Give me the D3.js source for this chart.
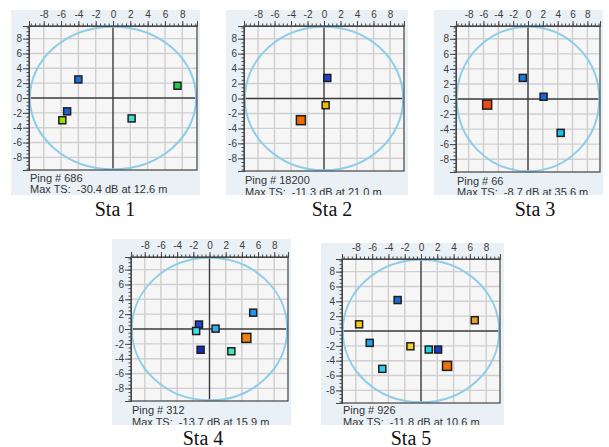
<!DOCTYPE html>
<html>
<head>
<meta charset="utf-8">
<script src="https://cdn.jsdelivr.net/npm/d3@7"></script>
<style>
  body { margin: 0; background: #fff; }
  svg { display: block; }
</style>
</head>
<body>
<div id="chart"></div>
<script>
// station names and the info lines under each plot
var stations = ["Sta 1", "Sta 2", "Sta 3", "Sta 4", "Sta 5"];
var pings = [686, 18200, 66, 312, 926];
var maxTS = ["-30.4 dB at 12.6 m", "-11.3 dB at 21.0 m", "-8.7 dB at 35.6 m", "-13.7 dB at 15.9 m", "-11.8 dB at 10.6 m"];

// target positions, [x, y] in m
var sta1X = [-4.0, -5.3, -5.85, 2.15, 7.45];
var sta1Y = [2.5, -1.8, -3.0, -2.75, 1.65];
var sta1C = ["#1e6fd9", "#1c5fd8", "#9be000", "#40e0c8", "#22c850"];

var sta2X = [0.4, 0.2, -2.8];
var sta2Y = [2.75, -0.9, -2.9];
var sta2C = ["#1f3fd0", "#f0c000", "#f06a00"];

var sta3X = [-0.7, 2.1, -5.5, 4.4];
var sta3Y = [2.8, 0.3, -0.75, -4.5];
var sta3C = ["#1a7ae0", "#1566e0", "#f04a10", "#20c0f0"];

var sta4X = [-1.3, -1.65, 0.75, -1.1, 2.7, 4.55, 5.4];
var sta4Y = [0.6, -0.27, 0.05, -2.8, -3.0, -1.2, 2.2];
var sta4C = ["#2040d8", "#40e0e8", "#30b0f0", "#1030c0", "#40e8c0", "#f08010", "#2098f0"];

var sta5X = [-2.87, -7.6, -6.3, -4.75, -1.3, 0.95, 2.1, 3.2, 6.6];
var sta5Y = [4.17, 0.9, -1.6, -5.1, -2.06, -2.5, -2.5, -4.7, 1.45];
var sta5C = ["#1a6ad8", "#f8d010", "#20a0f0", "#30d0f0", "#f0d020", "#20d0f0", "#1a3ac8", "#f07000", "#f0a020"];

var tickValues = [-8, -6, -4, -2, 0, 2, 4, 6, 8];
var ringRadius = 9.6;

var allX = [sta1X, sta2X, sta3X, sta4X, sta5X];
var allY = [sta1Y, sta2Y, sta3Y, sta4Y, sta5Y];
var allC = [sta1C, sta2C, sta3C, sta4C, sta5C];

// layout of each panel on the page; info = baselines of the two text lines
var layout = [
  {bg: [11, 10, 200, 195], plot: [29, 26, 197, 170], title: [115, 216], info: [182, 193]},
  {bg: [226, 10, 408, 195], plot: [244, 26, 404, 171], title: [332, 216], info: [184, 196]},
  {bg: [434, 10, 603, 195], plot: [456, 26, 600, 172], title: [535, 216], info: [184.5, 196]},
  {bg: [112, 239, 291, 425], plot: [131, 257, 288, 401], title: [203, 444.5], info: [413.5, 425.5]},
  {bg: [321, 243, 504, 425], plot: [342, 259, 500, 403], title: [411, 444.5], info: [413.5, 425.5]}
];

var hyphen = function (d) { return String(d); };

var svg = d3.select("#chart").append("svg")
    .attr("width", 609)
    .attr("height", 447);

stations.forEach(function (name, i) {
  var L = layout[i];
  var x = d3.scaleLinear().domain([-9.7, 9.7]).range([L.plot[0], L.plot[2]]);
  var y = d3.scaleLinear().domain([-9.7, 9.7]).range([L.plot[3], L.plot[1]]);

  var g = svg.append("g").attr("class", "panel");

  g.append("clipPath").attr("id", "clip" + i)
    .append("rect")
    .attr("x", L.bg[0]).attr("y", L.bg[1])
    .attr("width", L.bg[2] - L.bg[0]).attr("height", L.bg[3] - L.bg[1]);

  g.append("rect")
    .attr("x", L.bg[0]).attr("y", L.bg[1])
    .attr("width", L.bg[2] - L.bg[0]).attr("height", L.bg[3] - L.bg[1])
    .attr("fill", "#eaf1f6");

  g.append("rect")
    .attr("x", L.plot[0]).attr("y", L.plot[1])
    .attr("width", L.plot[2] - L.plot[0]).attr("height", L.plot[3] - L.plot[1])
    .attr("fill", "#f6f6f6");

  // grid
  g.selectAll(".vgrid").data(tickValues.filter(function (t) { return t !== 0; }))
    .enter().append("line")
    .attr("x1", function (d) { return x(d); }).attr("x2", function (d) { return x(d); })
    .attr("y1", L.plot[1]).attr("y2", L.plot[3])
    .attr("stroke", "#cfcfcf").attr("stroke-width", 1.4);
  g.selectAll(".hgrid").data(tickValues.filter(function (t) { return t !== 0; }))
    .enter().append("line")
    .attr("y1", function (d) { return y(d); }).attr("y2", function (d) { return y(d); })
    .attr("x1", L.plot[0]).attr("x2", L.plot[2])
    .attr("stroke", "#cfcfcf").attr("stroke-width", 1.4);

  // zero lines
  g.append("line")
    .attr("x1", x(0)).attr("x2", x(0)).attr("y1", L.plot[1]).attr("y2", L.plot[3])
    .attr("stroke", "#3a3a3a").attr("stroke-width", 1.4);
  g.append("line")
    .attr("y1", y(0)).attr("y2", y(0)).attr("x1", L.plot[0]).attr("x2", L.plot[2])
    .attr("stroke", "#3a3a3a").attr("stroke-width", 1.4);

  // range ring
  g.append("ellipse")
    .attr("cx", x(0)).attr("cy", y(0))
    .attr("rx", x(ringRadius) - x(0)).attr("ry", y(0) - y(ringRadius))
    .attr("fill", "none")
    .attr("stroke", "#8dcde8").attr("stroke-width", 2);

  // border
  g.append("rect")
    .attr("x", L.plot[0]).attr("y", L.plot[1])
    .attr("width", L.plot[2] - L.plot[0]).attr("height", L.plot[3] - L.plot[1])
    .attr("fill", "none").attr("stroke", "#444").attr("stroke-width", 1.2);

  // axes: top and left rulers
  var minor = d3.range(-9.5, 9.6, 0.5);
  g.append("g").attr("transform", "translate(0," + L.plot[1] + ")")
    .call(d3.axisTop(x).tickValues(minor).tickSize(2.5).tickFormat(""));
  g.append("g").attr("transform", "translate(" + L.plot[0] + ",0)")
    .call(d3.axisLeft(y).tickValues(minor).tickSize(2.5).tickFormat(""));

  g.append("g").attr("transform", "translate(0," + L.plot[1] + ")")
    .call(d3.axisTop(x).tickValues(tickValues).tickSize(5).tickPadding(3)
      .tickFormat(hyphen));
  g.append("g").attr("transform", "translate(" + L.plot[0] + ",0)")
    .call(d3.axisLeft(y).tickValues(tickValues).tickSize(6).tickPadding(1)
      .tickFormat(hyphen));

  g.selectAll(".domain").attr("stroke", "#444");
  g.selectAll(".tick line").attr("stroke", "#444");
  g.selectAll(".tick text")
    .attr("font-family", "Liberation Sans, Arial, sans-serif")
    .attr("font-size", 10)
    .attr("fill", "#3a3a3a");

  // targets
  var pts = allX[i].map(function (v, j) {
    return {x: v, y: allY[i][j], c: allC[i][j]};
  });
  g.selectAll(".target").data(pts).enter().append("rect")
    .attr("class", "target")
    .attr("width", function (d) { return isBig(d.c) ? 9 : 7; })
    .attr("height", function (d) { return isBig(d.c) ? 9 : 7; })
    .attr("x", function (d) { return x(d.x) - (isBig(d.c) ? 4.5 : 3.5); })
    .attr("y", function (d) { return y(d.y) - (isBig(d.c) ? 4.5 : 3.5); })
    .attr("fill", function (d) { return d.c; })
    .attr("stroke", "#1e1e1e").attr("stroke-width", 1.5);

  // info text (cut off by the panel edge, as in the original screenshots)
  var info = g.append("g").attr("clip-path", "url(#clip" + i + ")")
    .attr("font-family", "Liberation Sans, Arial, sans-serif")
    .attr("font-size", 11).attr("fill", "#333");
  info.append("text")
    .attr("x", L.plot[0] + 1).attr("y", L.info[0])
    .text("Ping # " + pings[i]);
  info.append("text")
    .attr("x", L.plot[0] + 1).attr("y", L.info[1])
    .attr("xml:space", "preserve")
    .text("Max TS:  " + maxTS[i]);

  svg.append("text")
    .attr("x", L.title[0]).attr("y", L.title[1])
    .attr("text-anchor", "middle")
    .attr("font-family", "Liberation Serif, Times New Roman, serif")
    .attr("font-size", 20)
    .attr("fill", "#111")
    .text(name);
});

function isBig(c) {
  return c === "#f06a00" || c === "#f04a10" || c === "#f08010" || c === "#f07000";
}
</script>
</body>
</html>
